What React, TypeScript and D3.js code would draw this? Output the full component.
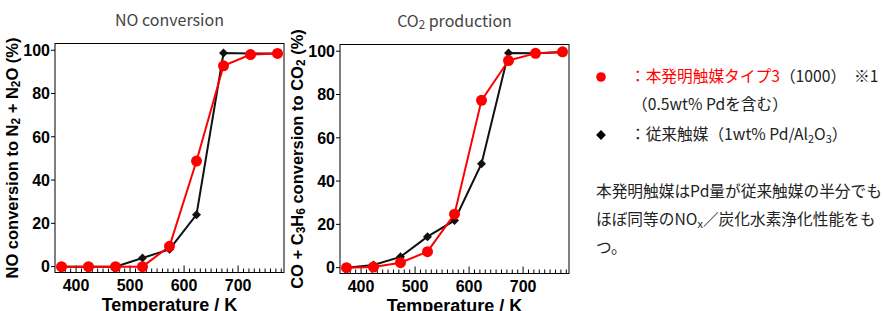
import React from "react";
import * as d3 from "d3";

// temperatures (K)
const temps = [373, 423, 473, 523, 573, 623, 673, 723, 773];

// NO conversion to N2 + N2O (%)
const noConventional = [0, 0, 0, 4, 8, 24, 98.7, 98.5, 98.5];
const noInvention = [0, 0, 0, 0, 9.4, 48.8, 92.8, 98, 98.5];

// CO + C3H6 conversion to CO2 (%)
const co2Conventional = [0, 1.2, 5, 14.3, 21.8, 48, 99.2, 99, 99.5];
const co2Invention = [0, 0.3, 2.3, 7.4, 24.7, 77.3, 95.7, 99, 99.7];

const xTicks = [400, 500, 600, 700];
const yTicks = [0, 20, 40, 60, 80, 100];

const W = 229;
const H = 229;
const tickFont = "'Liberation Sans', Arial, sans-serif";
const jpFont = "'Noto Sans CJK JP', 'Noto Sans', sans-serif";

type PanelProps = {
  left: number;
  top: number;
  black: number[];
  red: number[];
  title: React.ReactNode;
  ylabel: React.ReactNode;
};

const Panel: React.FC<PanelProps> = ({ left, top, black, red, title, ylabel }) => {
  const x = d3.scaleLinear().domain([361, 785]).range([0, W]);
  const y = d3.scaleLinear().domain([-2.7, 103.1]).range([H, 0]);
  const line = d3
    .line<number>()
    .x((_, i) => x(temps[i]))
    .y((d) => y(d));
  const minor = d3.range(370, 785, 10);
  const diamond = d3.symbol(d3.symbolSquare, 40)() || "";

  return (
    <g transform={`translate(${left},${top})`}>
      <text x={W / 2} y={-18} textAnchor="middle" fontSize={16} fill="#444" fontFamily={jpFont}>
        {title}
      </text>
      <rect x={0} y={0} width={W} height={H} fill="none" stroke="#000" strokeWidth={1} />
      {minor.map((t) => (
        <line
          key={t}
          x1={x(t)}
          x2={x(t)}
          y1={H}
          y2={H - (t % 100 === 0 ? 7 : 4)}
          stroke="#000"
          strokeWidth={1}
        />
      ))}
      {xTicks.map((t) => (
        <text
          key={t}
          x={x(t)}
          y={H + 18}
          textAnchor="middle"
          fontSize={16}
          fontWeight="bold"
          fontFamily={tickFont}
        >
          {t}
        </text>
      ))}
      {yTicks.map((t) => (
        <g key={t}>
          <line x1={-4} x2={0} y1={y(t)} y2={y(t)} stroke="#000" />
          <text
            x={-5}
            y={y(t)}
            dy="0.36em"
            textAnchor="end"
            fontSize={16}
            fontWeight="bold"
            fontFamily={tickFont}
          >
            {t}
          </text>
        </g>
      ))}
      <text
        x={W / 2}
        y={H + 38.5}
        textAnchor="middle"
        fontSize={18}
        fontWeight="bold"
        fontFamily={tickFont}
      >
        Temperature / K
      </text>
      <text
        transform={`translate(${-37},${H / 2}) rotate(-90)`}
        textAnchor="middle"
        fontSize={16.5}
        fontWeight="bold"
        fontFamily={tickFont}
      >
        {ylabel}
      </text>
      <path d={line(black) || ""} fill="none" stroke="#111" strokeWidth={2} />
      {black.map((v, i) => (
        <path
          key={i}
          d={diamond}
          transform={`translate(${x(temps[i])},${y(v)}) rotate(45)`}
          fill="#111"
        />
      ))}
      <path d={line(red) || ""} fill="none" stroke="#f00" strokeWidth={2} />
      {red.map((v, i) => (
        <circle key={i} cx={x(temps[i])} cy={y(v)} r={5.5} fill="#f00" />
      ))}
    </g>
  );
};

const sub = (s: string) => (
  <tspan fontSize="0.72em" dy={2}>
    {s}
  </tspan>
);

export default function App() {
  return (
    <svg
      width={883}
      height={311}
      style={{ position: "absolute", left: 0, top: 0, background: "#fff" }}
    >
      <Panel
        left={55}
        top={43.5}
        black={noConventional}
        red={noInvention}
        title="NO conversion"
        ylabel={
          <>
            NO conversion to N{sub("2")}
            <tspan dy={-2}> + N</tspan>
            {sub("2")}
            <tspan dy={-2}>O (%)</tspan>
          </>
        }
      />
      <Panel
        left={340}
        top={44.5}
        black={co2Conventional}
        red={co2Invention}
        title={
          <>
            CO{sub("2")}
            <tspan dy={-2}> production</tspan>
          </>
        }
        ylabel={
          <>
            CO + C{sub("3")}
            <tspan dy={-2}>H</tspan>
            {sub("6")}
            <tspan dy={-2}> conversion to CO</tspan>
            {sub("2")}
            <tspan dy={-2}> (%)</tspan>
          </>
        }
      />
      <g fontFamily={jpFont} fontSize={15.7} fill="#222">
        <circle cx={601} cy={77} r={4.8} fill="#f00" />
        <text x={630} y={82}>
          <tspan fill="#f00">：本発明触媒タイプ3</tspan>（1000）　※1
        </text>
        <text x={632} y={110}>（0.5wt% Pdを含む）</text>
        <path
          d={d3.symbol(d3.symbolSquare, 48)() || ""}
          transform="translate(601,135) rotate(45)"
          fill="#000"
        />
        <text x={630} y={140}>
          ：従来触媒（1wt% Pd/Al
          <tspan fontSize={11} dy={3}>2</tspan>
          <tspan dy={-3}>O</tspan>
          <tspan fontSize={11} dy={3}>3</tspan>
          <tspan dy={-3}>）</tspan>
        </text>
        <text x={596} y={197}>本発明触媒はPd量が従来触媒の半分でも</text>
        <text x={596} y={225}>
          ほぼ同等のNO<tspan fontSize={11} dy={3}>x</tspan>
          <tspan dy={-3}>／炭化水素浄化性能をも</tspan>
        </text>
        <text x={596} y={253}>つ。</text>
      </g>
    </svg>
  );
}
